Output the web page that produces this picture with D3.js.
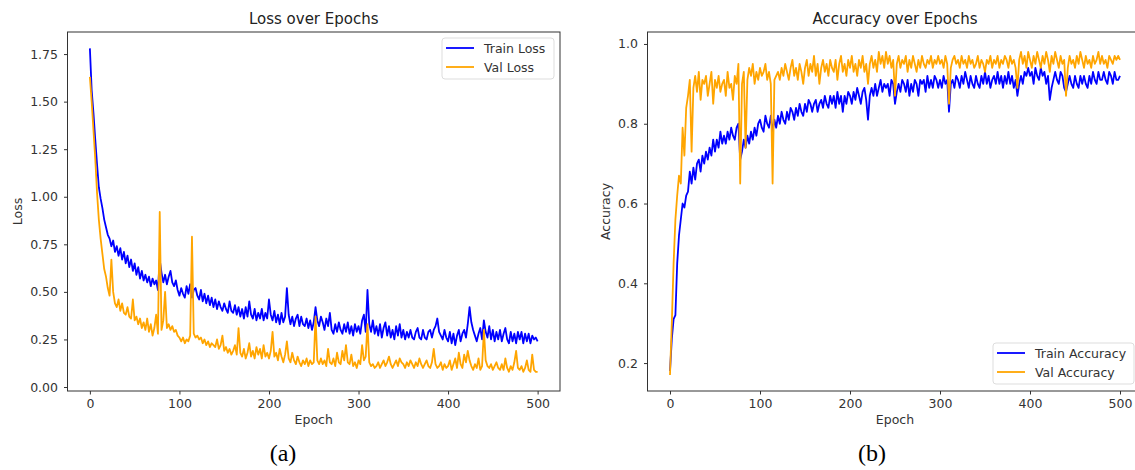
<!DOCTYPE html>
<html>
<head>
<meta charset="utf-8">
<script src="https://cdn.jsdelivr.net/npm/d3@7"></script>
<style>
  body { margin: 0; background: white; }
  text { font-family: "DejaVu Sans", sans-serif; }
</style>
</head>
<body>
<div id="vis"></div>
<script>
// epochs sampled every 2 epochs
let epochs = d3.range(0, 501, 2)

// loss values
let trainLoss = [
  1.78, 1.56, 1.44, 1.30, 1.17, 1.05, 0.99, 0.94, 0.88, 0.84,
  0.80, 0.78, 0.74, 0.77, 0.71, 0.74, 0.69, 0.73, 0.67, 0.71,
  0.65, 0.69, 0.63, 0.67, 0.61, 0.65, 0.59, 0.63, 0.57, 0.61,
  0.56, 0.59, 0.55, 0.58, 0.53, 0.57, 0.54, 0.56, 0.51, 0.67,
  0.60, 0.55, 0.59, 0.54, 0.58, 0.61, 0.55, 0.53, 0.56, 0.51,
  0.48, 0.52, 0.49, 0.47, 0.53, 0.49, 0.54, 0.47, 0.51, 0.52,
  0.48, 0.46, 0.51, 0.45, 0.49, 0.44, 0.48, 0.43, 0.47, 0.42,
  0.46, 0.41, 0.45, 0.42, 0.40, 0.44, 0.41, 0.39, 0.45, 0.40,
  0.39, 0.43, 0.38, 0.42, 0.37, 0.41, 0.36, 0.42, 0.37, 0.45,
  0.38, 0.36, 0.41, 0.35, 0.39, 0.36, 0.41, 0.35, 0.39, 0.36,
  0.46, 0.38, 0.35, 0.40, 0.34, 0.38, 0.33, 0.39, 0.34, 0.37,
  0.52, 0.38, 0.33, 0.37, 0.32, 0.36, 0.38, 0.32, 0.37, 0.33,
  0.32, 0.36, 0.31, 0.35, 0.30, 0.34, 0.42, 0.35, 0.32, 0.37,
  0.34, 0.30, 0.36, 0.32, 0.39, 0.30, 0.28, 0.33, 0.29, 0.34,
  0.30, 0.28, 0.33, 0.29, 0.34, 0.28, 0.32, 0.27, 0.33, 0.29,
  0.32, 0.28, 0.35, 0.38, 0.29, 0.51, 0.33, 0.29, 0.35, 0.28,
  0.32, 0.27, 0.33, 0.26, 0.31, 0.34, 0.27, 0.32, 0.26, 0.30,
  0.25, 0.32, 0.27, 0.33, 0.26, 0.30, 0.25, 0.29, 0.26, 0.30,
  0.26, 0.25, 0.29, 0.31, 0.26, 0.25, 0.30, 0.26, 0.25, 0.29,
  0.30, 0.26, 0.30, 0.32, 0.36, 0.29, 0.27, 0.25, 0.30, 0.26,
  0.24, 0.29, 0.23, 0.28, 0.22, 0.27, 0.30, 0.24, 0.28, 0.30,
  0.26, 0.33, 0.42, 0.34, 0.30, 0.27, 0.24, 0.28, 0.31, 0.25,
  0.35, 0.29, 0.26, 0.32, 0.25, 0.30, 0.24, 0.29, 0.25, 0.30,
  0.24, 0.28, 0.31, 0.25, 0.23, 0.29, 0.24, 0.28, 0.23, 0.29,
  0.25, 0.29, 0.23, 0.28, 0.24, 0.28, 0.23, 0.27, 0.25, 0.26,
  0.24
]
let valLoss = [
  1.63, 1.50, 1.35, 1.20, 1.02, 0.88, 0.78, 0.70, 0.62, 0.58,
  0.52, 0.48, 0.67, 0.50, 0.44, 0.42, 0.46, 0.40, 0.44, 0.39,
  0.38, 0.42, 0.37, 0.36, 0.46, 0.35, 0.37, 0.33, 0.36, 0.31,
  0.34, 0.30, 0.36, 0.29, 0.33, 0.27, 0.31, 0.38, 0.28, 0.92,
  0.30, 0.35, 0.50, 0.31, 0.33, 0.30, 0.32, 0.29, 0.30, 0.27,
  0.26, 0.24, 0.26, 0.23, 0.25, 0.24, 0.27, 0.79, 0.28, 0.26,
  0.27, 0.25, 0.26, 0.23, 0.25, 0.22, 0.24, 0.21, 0.23, 0.22,
  0.21, 0.25, 0.20, 0.22, 0.27, 0.19, 0.21, 0.18, 0.20, 0.17,
  0.19, 0.22, 0.17, 0.31, 0.18, 0.16, 0.20, 0.15, 0.18, 0.23,
  0.16, 0.19, 0.15, 0.21, 0.17, 0.20, 0.15, 0.22, 0.16, 0.18,
  0.15, 0.19, 0.29, 0.16, 0.18, 0.14, 0.20, 0.16, 0.13, 0.17,
  0.24, 0.15, 0.13, 0.18, 0.14, 0.12, 0.16, 0.13, 0.11, 0.14,
  0.12, 0.15, 0.11, 0.14, 0.12, 0.13, 0.37, 0.14, 0.12, 0.15,
  0.12, 0.14, 0.11, 0.20, 0.13, 0.12, 0.15, 0.11, 0.18, 0.13,
  0.12, 0.19, 0.14, 0.22, 0.13, 0.12, 0.17, 0.11, 0.13, 0.10,
  0.14, 0.12, 0.22, 0.14, 0.16, 0.33, 0.13, 0.11, 0.12, 0.10,
  0.11, 0.13, 0.10, 0.12, 0.14, 0.11, 0.13, 0.16, 0.12, 0.10,
  0.12, 0.14, 0.11, 0.15, 0.13, 0.12, 0.10, 0.13, 0.11, 0.14,
  0.12, 0.10, 0.13, 0.11, 0.15, 0.12, 0.10, 0.12, 0.14, 0.11,
  0.10, 0.13, 0.20, 0.12, 0.10, 0.11, 0.13, 0.09, 0.12, 0.10,
  0.11, 0.14, 0.09, 0.12, 0.15, 0.10, 0.18, 0.12, 0.10, 0.17,
  0.13, 0.19, 0.14, 0.11, 0.09, 0.12, 0.10, 0.15, 0.09, 0.11,
  0.30, 0.14, 0.11, 0.10, 0.12, 0.09, 0.11, 0.13, 0.10, 0.09,
  0.12, 0.09, 0.15, 0.10, 0.08, 0.11, 0.09, 0.13, 0.19, 0.10,
  0.09, 0.11, 0.08, 0.10, 0.14, 0.09, 0.08, 0.17, 0.09, 0.08,
  0.08
]

// accuracy values
let trainAcc = [
  0.18, 0.26, 0.31, 0.32, 0.45, 0.52, 0.56, 0.60, 0.59, 0.62,
  0.63, 0.68, 0.65, 0.69, 0.66, 0.70, 0.71, 0.68, 0.72, 0.70,
  0.73, 0.71, 0.74, 0.72, 0.76, 0.73, 0.76, 0.74, 0.78, 0.75,
  0.77, 0.75, 0.78, 0.76, 0.79, 0.77, 0.76, 0.79, 0.80, 0.71,
  0.73, 0.76, 0.74, 0.77, 0.75, 0.78, 0.76, 0.79, 0.77, 0.80,
  0.81, 0.79, 0.78, 0.82, 0.80, 0.79, 0.82, 0.78, 0.81, 0.79,
  0.82, 0.80, 0.83, 0.81, 0.80, 0.83, 0.81, 0.84, 0.83, 0.81,
  0.84, 0.82, 0.85, 0.83, 0.82, 0.85, 0.83, 0.86, 0.85, 0.83,
  0.85, 0.86, 0.83, 0.85, 0.86, 0.84, 0.87, 0.85, 0.84, 0.87,
  0.85, 0.87, 0.84, 0.88, 0.85, 0.87, 0.83, 0.87, 0.85, 0.88,
  0.87, 0.85, 0.88, 0.86, 0.89, 0.87, 0.85, 0.88, 0.89, 0.86,
  0.81, 0.87, 0.89, 0.87, 0.90, 0.87, 0.89, 0.91, 0.88, 0.90,
  0.89, 0.90, 0.87, 0.91, 0.90, 0.85, 0.88, 0.90, 0.88, 0.91,
  0.90, 0.88, 0.91, 0.87, 0.90, 0.88, 0.91, 0.90, 0.87, 0.91,
  0.90, 0.91, 0.88, 0.92, 0.89, 0.91, 0.89, 0.92, 0.91, 0.89,
  0.91, 0.89, 0.92, 0.90, 0.91, 0.83, 0.90, 0.91, 0.89, 0.92,
  0.91, 0.89, 0.92, 0.90, 0.93, 0.91, 0.89, 0.92, 0.90, 0.89,
  0.92, 0.90, 0.89, 0.92, 0.90, 0.93, 0.90, 0.92, 0.89, 0.91,
  0.92, 0.90, 0.93, 0.90, 0.92, 0.89, 0.92, 0.90, 0.93, 0.90,
  0.92, 0.89, 0.91, 0.87, 0.90, 0.92, 0.90, 0.93, 0.92, 0.94,
  0.92, 0.93, 0.90, 0.94, 0.92, 0.91, 0.94, 0.92, 0.93, 0.90,
  0.92, 0.86, 0.89, 0.91, 0.93, 0.91, 0.90, 0.93, 0.92, 0.89,
  0.88, 0.90, 0.92, 0.90, 0.89, 0.92, 0.90, 0.89, 0.92, 0.90,
  0.92, 0.90, 0.89, 0.92, 0.90, 0.93, 0.91, 0.90, 0.93, 0.91,
  0.91, 0.93, 0.91, 0.90, 0.93, 0.92, 0.90, 0.93, 0.91, 0.91,
  0.92
]
let valAcc = [
  0.17, 0.30, 0.45, 0.56, 0.62, 0.67, 0.65, 0.79, 0.72, 0.84,
  0.87, 0.91, 0.73, 0.89, 0.92, 0.88, 0.93, 0.86, 0.91, 0.90,
  0.92, 0.87, 0.90, 0.93, 0.85, 0.91, 0.89, 0.92, 0.88, 0.90,
  0.91, 0.87, 0.93, 0.89, 0.90, 0.86, 0.92, 0.90, 0.95, 0.65,
  0.90, 0.93, 0.74, 0.91, 0.94, 0.92, 0.95, 0.90, 0.93, 0.91,
  0.94, 0.92, 0.93, 0.95, 0.91, 0.93, 0.90, 0.65, 0.91, 0.92,
  0.93, 0.91, 0.94, 0.92, 0.95, 0.93, 0.91, 0.94, 0.96, 0.92,
  0.94, 0.91, 0.95, 0.93, 0.90, 0.94, 0.96, 0.92, 0.95, 0.93,
  0.97, 0.92, 0.95, 0.90, 0.94, 0.96, 0.93, 0.95, 0.92, 0.96,
  0.94, 0.93, 0.96, 0.91, 0.95, 0.97, 0.93, 0.95, 0.92, 0.96,
  0.94, 0.97, 0.93, 0.95, 0.92, 0.96, 0.94, 0.97, 0.93, 0.95,
  0.90, 0.95, 0.97, 0.94, 0.96, 0.93, 0.98, 0.95, 0.97, 0.94,
  0.98, 0.95, 0.97, 0.94, 0.96, 0.87, 0.95, 0.97, 0.94, 0.96,
  0.95, 0.97, 0.93, 0.96, 0.94, 0.97, 0.95, 0.93, 0.96, 0.94,
  0.97, 0.95, 0.94, 0.96, 0.95, 0.97, 0.94, 0.96, 0.95, 0.97,
  0.95, 0.96, 0.94, 0.97, 0.95, 0.85, 0.94, 0.96, 0.97, 0.95,
  0.96, 0.94, 0.97, 0.95, 0.96, 0.94, 0.97, 0.95, 0.96, 0.94,
  0.95, 0.97, 0.94, 0.96, 0.95, 0.93, 0.96, 0.95, 0.97, 0.94,
  0.96, 0.95, 0.97, 0.94, 0.96, 0.95, 0.97, 0.96, 0.94, 0.97,
  0.95, 0.96, 0.94, 0.89, 0.96, 0.98, 0.95, 0.97, 0.94, 0.98,
  0.96, 0.94, 0.97, 0.95, 0.98, 0.96, 0.94, 0.97, 0.95, 0.98,
  0.96, 0.93, 0.97, 0.95, 0.98, 0.96, 0.94, 0.97, 0.95, 0.96,
  0.87, 0.94, 0.97, 0.95, 0.96, 0.94, 0.97, 0.95, 0.98, 0.96,
  0.94, 0.97, 0.95, 0.96, 0.94, 0.97, 0.95, 0.96, 0.98, 0.95,
  0.97, 0.95, 0.96, 0.94, 0.97, 0.96, 0.95, 0.97, 0.96, 0.97,
  0.96
]

// tick labels
let epochTicks = [0, 100, 200, 300, 400, 500]
let lossTicks = [0, 0.25, 0.5, 0.75, 1.0, 1.25, 1.5, 1.75]
let accTicks = [0.2, 0.4, 0.6, 0.8, 1.0]

let blue = '#0000ff', orange = '#ffa500'

let svg = d3.select('#vis')
  .append('svg')
  .attr('width', 1135)
  .attr('height', 470)
  .style('background-color', 'white')

// draws one panel of the figure
function drawPanel(p) {
  let x = d3.scaleLinear().domain([-25, 525]).range([p.left, p.right])
  let y = d3.scaleLinear().domain(p.yDomain).range([p.bottom, p.top])

  let g = svg.append('g')

  g.append('clipPath').attr('id', p.id + 'clip')
    .append('rect')
    .attr('x', p.left).attr('y', p.top)
    .attr('width', p.right - p.left).attr('height', p.bottom - p.top)

  let line = d3.line()
    .x((d, i) => x(epochs[i]))
    .y(d => y(d))

  p.series.forEach(s => {
    g.append('path')
      .datum(s.values)
      .attr('d', line)
      .attr('fill', 'none')
      .attr('stroke', s.color)
      .attr('stroke-width', 1.8)
      .attr('stroke-linejoin', 'round')
      .attr('clip-path', 'url(#' + p.id + 'clip)')
  })

  // frame
  g.append('rect')
    .attr('x', p.left).attr('y', p.top)
    .attr('width', p.right - p.left).attr('height', p.bottom - p.top)
    .attr('fill', 'none')
    .attr('stroke', '#333')
    .attr('stroke-width', 1)

  // axes
  let xAxis = g.append('g')
    .attr('transform', 'translate(0,' + p.bottom + ')')
    .call(d3.axisBottom(x).tickValues(epochTicks).tickSize(3.5).tickPadding(5))
  let yAxis = g.append('g')
    .attr('transform', 'translate(' + p.left + ',0)')
    .call(d3.axisLeft(y).tickValues(p.yTicks).tickFormat(d3.format(p.yFormat)).tickSize(3.5).tickPadding(6))
  ;[xAxis, yAxis].forEach(a => {
    a.select('.domain').remove()
    a.selectAll('line').attr('stroke', '#333')
    a.selectAll('text')
      .attr('fill', '#333')
      .style('font-family', '"DejaVu Sans", sans-serif')
      .style('font-size', '12.5px')
  })

  // title and axis labels
  g.append('text')
    .attr('x', (p.left + p.right) / 2).attr('y', 24)
    .attr('text-anchor', 'middle')
    .attr('fill', '#222')
    .style('font-size', '15px')
    .text(p.title)
  g.append('text')
    .attr('x', (p.left + p.right) / 2).attr('y', 424)
    .attr('text-anchor', 'middle')
    .attr('fill', '#333')
    .style('font-size', '12.5px')
    .text('Epoch')
  g.append('text')
    .attr('transform', 'translate(' + p.yLabelX + ',' + ((p.top + p.bottom) / 2) + ') rotate(-90)')
    .attr('text-anchor', 'middle')
    .attr('fill', '#333')
    .style('font-size', '12.5px')
    .text(p.yLabel)

  // legend
  let lg = g.append('g')
  lg.append('rect')
    .attr('x', p.legend.x).attr('y', p.legend.y)
    .attr('width', p.legend.w).attr('height', 41)
    .attr('rx', 3)
    .attr('fill', 'white').attr('fill-opacity', 0.85)
    .attr('stroke', '#ddd')
  p.series.forEach((s, i) => {
    let ly = p.legend.y + 10 + i * 19
    lg.append('line')
      .attr('x1', p.legend.x + 4).attr('x2', p.legend.x + 32)
      .attr('y1', ly).attr('y2', ly)
      .attr('stroke', s.color).attr('stroke-width', 1.8)
    lg.append('text')
      .attr('x', p.legend.x + 42).attr('y', ly + 4.5)
      .attr('fill', '#333')
      .style('font-size', '12.5px')
      .text(s.name)
  })

  // caption below the panel
  svg.append('text')
    .attr('x', p.captionX).attr('y', 461)
    .attr('text-anchor', 'middle')
    .attr('fill', '#000')
    .style('font-family', '"Liberation Serif", "Times New Roman", serif')
    .style('font-size', '24px')
    .text(p.caption)
}

drawPanel({
  id: 'loss', left: 67.5, right: 560, top: 32, bottom: 391,
  yDomain: [-0.021, 1.866], yTicks: lossTicks, yFormat: '.2f',
  title: 'Loss over Epochs', yLabel: 'Loss', yLabelX: 22,
  legend: { x: 442, y: 38, w: 112 },
  series: [
    { name: 'Train Loss', values: trainLoss, color: blue },
    { name: 'Val Loss', values: valLoss, color: orange }
  ],
  caption: '(a)', captionX: 283
})

drawPanel({
  id: 'acc', left: 647.5, right: 1142.5, top: 32, bottom: 391,
  yDomain: [0.13, 1.03], yTicks: accTicks, yFormat: '.1f',
  title: 'Accuracy over Epochs', yLabel: 'Accuracy', yLabelX: 610,
  legend: { x: 993, y: 343, w: 141 },
  series: [
    { name: 'Train Accuracy', values: trainAcc, color: blue },
    { name: 'Val Accuracy', values: valAcc, color: orange }
  ],
  caption: '(b)', captionX: 872
})
</script>
</body>
</html>
